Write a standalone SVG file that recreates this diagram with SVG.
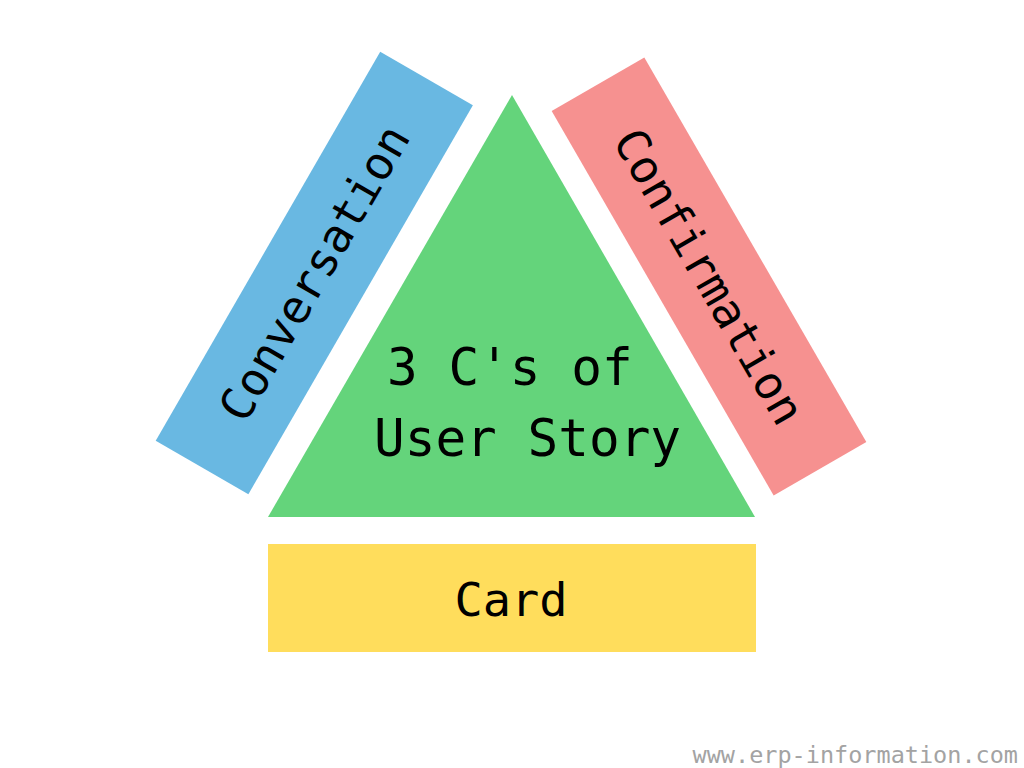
<svg xmlns="http://www.w3.org/2000/svg" width="1024" height="768" viewBox="0 0 1024 768">
  <style>
    .lbl { font-family: "DejaVu Sans Mono", "Liberation Mono", monospace; fill: #000; }
    .big { font-size: 51px; }
    .side { font-size: 46px; }
    .card { font-size: 47px; }
    .wm { font-family: "DejaVu Sans Mono", "Liberation Mono", monospace; font-size: 23.5px; fill: #a3a3a3; }
  </style>
  <rect width="1024" height="768" fill="#ffffff"/>
  <g id="conversation" transform="translate(314.3 273) rotate(-60)">
    <rect x="-224.5" y="-53.5" width="449" height="107" fill="#69b8e2"/>
    <text class="lbl side" x="0" y="16" text-anchor="middle">Conversation</text>
  </g>
  <g id="confirmation" transform="translate(709 276.5) rotate(60)">
    <rect x="-222" y="-53.5" width="444" height="107" fill="#f69190"/>
    <text class="lbl side" x="0" y="16" text-anchor="middle">Confirmation</text>
  </g>
  <g id="story">
    <polygon points="512,95 755,517 268,517" fill="#64d47b"/>
    <text class="lbl big" x="387" y="385">3 C's of</text>
    <text class="lbl big" x="374" y="456">User Story</text>
  </g>
  <g id="card">
    <rect x="268" y="544" width="488" height="108" fill="#ffdd5c"/>
    <text class="lbl card" x="511" y="616" text-anchor="middle">Card</text>
  </g>
  <g id="connectors"></g>
  <text class="wm" x="1018" y="763" text-anchor="end">www.erp-information.com</text>
</svg>
